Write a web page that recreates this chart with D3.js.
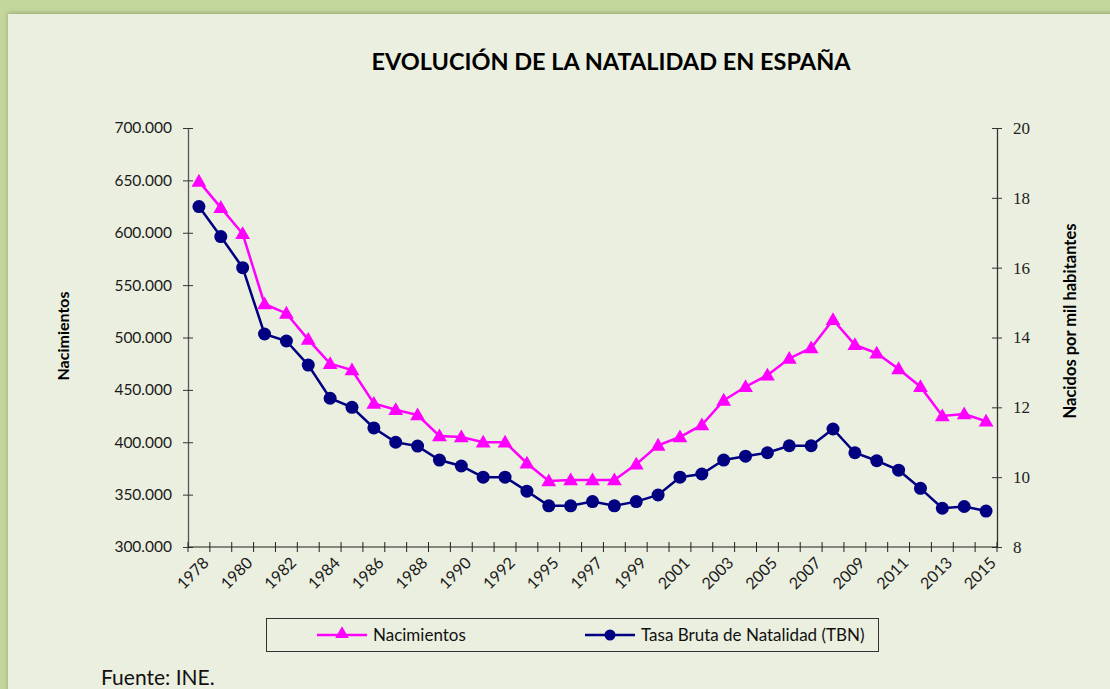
<!DOCTYPE html>
<html>
<head>
<meta charset="utf-8">
<script src="https://cdn.jsdelivr.net/npm/d3@7"></script>
<style>
  body { margin: 0; background: #c3d69b; }
  svg { display: block; }
</style>
</head>
<body>
<div id="chart"></div>
<script>
// chart data (1994 is not in the source series)
const years = [1978, 1979, 1980, 1981, 1982, 1983, 1984, 1985, 1986, 1987, 1988, 1989, 1990, 1991, 1992, 1993,
  1995, 1996, 1997, 1998, 1999, 2000, 2001, 2002, 2003, 2004, 2005, 2006, 2007, 2008, 2009, 2010, 2011, 2012, 2013, 2014, 2015]
const nacimientos = [649000, 624000, 599000, 532000, 523000, 498000, 475000, 469000, 437000, 431000, 426000, 406000, 405000, 400000, 400000, 380000,
  363000, 364000, 364000, 364000, 379000, 397000, 405000, 416500, 440000, 453000, 464000, 480000, 490000, 517000, 493000, 485000, 470000, 453000, 425000, 427000, 420000]
const tbn = [17.75, 16.89, 16.0, 14.1, 13.9, 13.21, 12.26, 12.0, 11.41, 11.0, 10.89, 10.49, 10.32, 10.0, 10.0, 9.6,
  9.18, 9.18, 9.3, 9.18, 9.3, 9.49, 10.0, 10.09, 10.49, 10.6, 10.7, 10.9, 10.9, 11.38, 10.7, 10.47, 10.2, 9.68, 9.11, 9.16, 9.03]
const leftTicks = [300000, 350000, 400000, 450000, 500000, 550000, 600000, 650000, 700000]
const rightTicks = [8, 10, 12, 14, 16, 18, 20]
const labelYears = [1978, 1980, 1982, 1984, 1986, 1988, 1990, 1992, 1995, 1997, 1999, 2001, 2003, 2005, 2007, 2009, 2011, 2013, 2015]

const width = 1110
const height = 689
const plot = { left: 188, right: 997, top: 128, bottom: 547 }
const pink = '#ff00ff'
const navy = '#000080'
const sans = "Lato, 'Open Sans', sans-serif"

const svg = d3.select('#chart')
  .append('svg')
  .attr('width', width)
  .attr('height', height)

// frame
const defs = svg.append('defs')
const f = defs.append('filter').attr('id', 'shadow').attr('x', -0.05).attr('y', -0.05).attr('width', 1.1).attr('height', 1.1)
f.append('feDropShadow').attr('dx', 0).attr('dy', -1).attr('stdDeviation', 2).attr('flood-color', '#7a8a55').attr('flood-opacity', 0.6)

svg.append('rect').attr('width', width).attr('height', height).attr('fill', '#c3d69b')
svg.append('rect')
  .attr('x', 8).attr('y', 14)
  .attr('width', width).attr('height', height)
  .attr('fill', '#ebefdf')
  .attr('filter', 'url(#shadow)')

// title
svg.append('text')
  .attr('x', 611).attr('y', 70)
  .attr('text-anchor', 'middle')
  .style('font-family', sans)
  .style('font-weight', 'bold')
  .style('font-size', '23.5px')
  .text('EVOLUCIÓN DE LA NATALIDAD EN ESPAÑA')

// scales
const x = d3.scaleBand().domain(years).range([plot.left, plot.right])
const yLeft = d3.scaleLinear().domain([300000, 700000]).range([plot.bottom, plot.top])
const yRight = d3.scaleLinear().domain([8, 20]).range([plot.bottom, plot.top])
const cx = d => x(d) + x.bandwidth() / 2

const leftFmt = d => d3.format(',.0f')(d / 1000).replace(',', '.') + '.000'

// left axis
const leftAxis = svg.append('g')
  .attr('transform', 'translate(' + plot.left + ',0)')
  .call(d3.axisLeft(yLeft).tickValues(leftTicks).tickFormat(leftFmt).tickSizeInner(5).tickSizeOuter(0).tickPadding(10))
leftAxis.select('.domain').attr('stroke', '#555').attr('stroke-width', 1.3)
leftAxis.selectAll('.tick line').attr('x2', -5).attr('x1', 5).attr('stroke', '#333')
leftAxis.selectAll('text').style('font-family', sans).style('font-size', '15.5px').attr('fill', '#1a1a1a').attr('x', -16)

// right axis
const rightAxis = svg.append('g')
  .attr('transform', 'translate(' + plot.right + ',0)')
  .call(d3.axisRight(yRight).tickValues(rightTicks).tickSizeInner(5).tickSizeOuter(0))
rightAxis.select('.domain').attr('stroke', '#333').attr('stroke-width', 1.3)
rightAxis.selectAll('.tick line').attr('x1', -5).attr('x2', 5).attr('stroke', '#333')
rightAxis.selectAll('text').style('font-family', "'Liberation Serif', 'Times New Roman', serif").style('font-size', '17px').attr('fill', '#222').attr('x', 16)

// bottom axis: ticks on category boundaries
const bottom = svg.append('g').attr('transform', 'translate(0,' + plot.bottom + ')')
bottom.append('line').attr('x1', plot.left).attr('x2', plot.right).attr('stroke', '#222').attr('stroke-width', 1.2)
bottom.selectAll('.tb')
  .data(years.concat(['end']))
  .enter().append('line')
  .attr('x1', d => d === 'end' ? plot.right : x(d))
  .attr('x2', d => d === 'end' ? plot.right : x(d))
  .attr('y1', -5).attr('y2', 5)
  .attr('stroke', '#222')
bottom.selectAll('.lab')
  .data(labelYears)
  .enter().append('text')
  .attr('transform', d => 'translate(' + (cx(d) + 7) + ',13) rotate(-45)')
  .attr('text-anchor', 'end')
  .attr('dy', '0.35em')
  .style('font-family', sans)
  .style('font-size', '16px')
  .attr('fill', '#1a1a1a')
  .text(d => d)

// axis titles
svg.append('text')
  .attr('transform', 'translate(69,336) rotate(-90)')
  .attr('text-anchor', 'middle')
  .style('font-family', sans).style('font-weight', 'bold').style('font-size', '16px')
  .text('Nacimientos')
svg.append('text')
  .attr('transform', 'translate(1076,321) rotate(-90)')
  .attr('text-anchor', 'middle')
  .style('font-family', sans).style('font-weight', 'bold').style('font-size', '16.5px')
  .text('Nacidos por mil habitantes')

// lines
const lineN = d3.line().x((d, i) => cx(years[i])).y(d => yLeft(d))
const lineT = d3.line().x((d, i) => cx(years[i])).y(d => yRight(d))

svg.append('path').datum(nacimientos).attr('d', lineN).attr('fill', 'none').attr('stroke', pink).attr('stroke-width', 2.5)
svg.append('path').datum(tbn).attr('d', lineT).attr('fill', 'none').attr('stroke', navy).attr('stroke-width', 2.5)

const tri = d3.symbol().type(d3.symbolTriangle).size(95)
svg.selectAll('.tri')
  .data(nacimientos)
  .enter().append('path')
  .attr('d', tri)
  .attr('transform', (d, i) => 'translate(' + cx(years[i]) + ',' + (yLeft(d) + 1) + ')')
  .attr('fill', pink)

svg.selectAll('.dot')
  .data(tbn)
  .enter().append('circle')
  .attr('cx', (d, i) => cx(years[i]))
  .attr('cy', d => yRight(d))
  .attr('r', 6.5)
  .attr('fill', navy)

// legend
const legend = svg.append('g')
legend.append('rect')
  .attr('x', 266.5).attr('y', 618.5).attr('width', 612).attr('height', 33)
  .attr('fill', 'none').attr('stroke', '#333').attr('stroke-width', 1)
const items = [
  { name: 'Nacimientos', color: pink, shape: 'tri', x: 317 },
  { name: 'Tasa Bruta de Natalidad (TBN)', color: navy, shape: 'dot', x: 585 }
]
items.forEach(it => {
  legend.append('line').attr('x1', it.x).attr('x2', it.x + 50).attr('y1', 635).attr('y2', 635).attr('stroke', it.color).attr('stroke-width', 2.5)
  if (it.shape === 'tri') {
    legend.append('path').attr('d', d3.symbol().type(d3.symbolTriangle).size(80)).attr('transform', 'translate(' + (it.x + 25) + ',634)').attr('fill', it.color)
  } else {
    legend.append('circle').attr('cx', it.x + 25).attr('cy', 635).attr('r', 5.5).attr('fill', it.color)
  }
  legend.append('text')
    .attr('x', it.x + 56).attr('y', 641)
    .style('font-family', sans).style('font-size', '17px').attr('fill', '#111')
    .text(it.name)
})

// source
svg.append('text')
  .attr('x', 101).attr('y', 685)
  .style('font-family', sans).style('font-size', '21px').attr('fill', '#111')
  .text('Fuente: INE.')
</script>
</body>
</html>
